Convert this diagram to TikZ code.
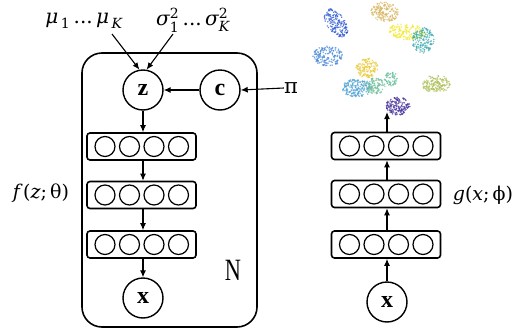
\documentclass[tikz,border=0pt]{standalone}
\usepackage{fontspec}
\usepackage{amsmath}
\usetikzlibrary{arrows.meta}
\newfontfamily\letterfont{Liberation Serif}
\newfontfamily\labelfont{DejaVu Serif}
\newcommand{\lt}[1]{\text{\labelfont #1}}
\newcommand{\li}[1]{\text{\labelfont\itshape #1}}

\begin{document}
\begin{tikzpicture}[x=1pt,y=-1pt,
  arr/.style={line width=1.1pt,-{Latex[length=7pt,width=6pt]}},
  var/.style={circle,draw,line width=1.4pt,minimum size=40pt,inner sep=0pt,
    font=\letterfont\bfseries\fontsize{24}{24}\selectfont},
  layer/.style={draw,line width=1.6pt,rounded corners=3pt,
    minimum width=109pt,minimum height=27pt,inner sep=0pt},
  neuron/.style={circle,draw,line width=1.2pt,minimum size=20pt,inner sep=0pt},
  lbl/.style={inner sep=0pt,font=\labelfont\fontsize{18}{18}\selectfont}]
\useasboundingbox (0,0) rectangle (515,335);

% ---- generative network (plate) ----
\node[draw,line width=1.6pt,rounded corners=20pt,minimum width=175pt,
  minimum height=274pt] (plate) at (169.5,190) {};

\node[var] (z) at (143,90) {z};
\node[var] (c) at (220,90) {c};
\node[lbl,font=\labelfont\fontsize{21}{21}\selectfont] (pi) at (291,88) {π};

\node[lbl,font=\labelfont\fontsize{20}{20}\selectfont] (mu) at (84,21)
  {$\li{μ}_{\,\lt{1}}\,\lt{...}\,\li{μ}_{\,\li{K}}$};
\node[lbl,font=\labelfont\fontsize{20}{20}\selectfont] (sig) at (193,20)
  {$\li{σ}^{\lt{2}}_{\lt{1}}\,\lt{...}\,\li{σ}^{\lt{2}}_{\li{K}}$};
\coordinate (mufoot) at (112,34);
\coordinate (sigfoot) at (173,34);

\foreach \n/\y in {L1/146.5,L2/195,L3/244.5}{
  \node[layer] (\n) at (141.5,\y) {};
  \foreach \k/\dx in {1/-36.5,2/-12,3/12.5,4/37}
    \node[neuron] (\n-\k) at ([xshift=\dx]\n.center) {};
}
\node[var] (x1) at (143,298) {x};

\node[lbl,font=\labelfont\fontsize{19}{19}\selectfont] (f) at (41,193)
  {\itshape f\,\upshape(\itshape z\upshape;\,θ)};
\node[inner sep=0pt] (N) at (233,270)
  {\scalebox{0.72}[1]{\letterfont\fontsize{31}{31}\selectfont N}};

\draw[arr] (mufoot) -- (z.100);
\draw[arr] (sigfoot) -- (z.80);
\draw[arr] (pi.west) -- (c.east);
\draw[arr] (c.west) -- (z.east);
\draw[arr] (z.south) -- (L1.north -| z.south);
\draw[arr] (L1.south -| z.south) -- (L2.north -| z.south);
\draw[arr] (L2.south -| z.south) -- (L3.north -| z.south);
\draw[arr] (L3.south -| z.south) -- (x1.north);

% ---- inference network ----
\foreach \n/\y in {R1/146,R2/194,R3/244.5}{
  \node[layer] (\n) at (386,\y) {};
  \foreach \k/\dx in {1/-36.5,2/-12,3/12.5,4/37}
    \node[neuron] (\n-\k) at ([xshift=\dx]\n.center) {};
}
\node[var] (x2) at (387,302) {x};
\node[lbl,font=\labelfont\fontsize{19}{19}\selectfont] (g) at (483,195)
  {\itshape g\upshape(\itshape x\upshape;\,ϕ)};
\coordinate (emb) at (387,112);

\draw[arr] (x2.north) -- (R3.south -| x2.north);
\draw[arr] (R3.north -| x2.north) -- (R2.south -| x2.north);
\draw[arr] (R2.north -| x2.north) -- (R1.south -| x2.north);
\draw[arr] (R1.north -| x2.north) -- (emb);

% ---- embedded clusters ----
\pgfmathsetseed{7}
\foreach \cx/\cy/\rx/\ry/\rot/\num/\col in {
  336/23/9/16/35/170/{rgb,255:red,40;green,85;blue,210},
  385/12/14/10/-10/170/{rgb,255:red,215;green,180;blue,95},
  407/32/19/8/-5/160/{rgb,255:red,242;green,232;blue,40},
  423/40/11/13/0/160/{rgb,255:red,60;green,170;blue,175},
  328/56/15/10/0/160/{rgb,255:red,70;green,135;blue,215},
  367/68/11/10/0/140/{rgb,255:red,235;green,200;blue,55},
  357/88/15/9/0/180/{rgb,255:red,75;green,160;blue,210},
  375/86/10/8/0/110/{rgb,255:red,110;green,190;blue,150},
  391/79/7/7/0/60/{rgb,255:red,100;green,190;blue,150},
  436/84/14/9/0/160/{rgb,255:red,170;green,190;blue,85},
  398/106/12/9/0/160/{rgb,255:red,70;green,50;blue,155}}{
  \begin{scope}[shift={(\cx,\cy)},rotate=\rot]
  \foreach \i in {1,...,\num}{
    \pgfmathsetmacro\ang{rnd*360}
    \pgfmathsetmacro\rad{sqrt(rnd)}
    \fill[color=\col,opacity=0.75] ({\rx*\rad*cos(\ang)},{\ry*\rad*sin(\ang)}) circle (0.85);
  }
  \end{scope}
}
\end{tikzpicture}
\end{document}
